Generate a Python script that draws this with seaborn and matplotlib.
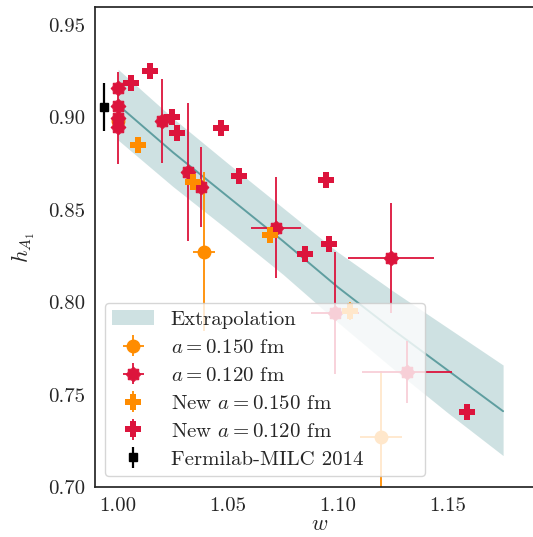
import numpy as np
import matplotlib
matplotlib.use("Agg")
import matplotlib.pyplot as plt
from matplotlib.path import Path
import seaborn as sns
import pandas as pd

# ---- data ----
band_w = [1.000, 1.025, 1.050, 1.075, 1.100, 1.125, 1.150, 1.175]
band_mid = [0.9067, 0.881, 0.857, 0.833, 0.808, 0.785, 0.763, 0.741]
band_hi = [0.926, 0.8995, 0.875, 0.851, 0.827, 0.806, 0.786, 0.766]
band_lo = [0.8877, 0.8625, 0.839, 0.815, 0.789, 0.764, 0.740, 0.717]

a150_w = [1.000, 1.0391, 1.1195]
a150_h = [0.898, 0.8272, 0.727]
a150_xerr = [0.0, 0.005, 0.0095]
a150_yerr = [0.004, 0.043, 0.036]

a120_w = [1.000, 1.000, 1.000, 1.000, 1.020, 1.0318, 1.0377, 1.0718, 1.0986, 1.1241, 1.1314]
a120_h = [0.916, 0.906, 0.8995, 0.895, 0.898, 0.8705, 0.8623, 0.8402, 0.7942, 0.8239, 0.7622]
a120_xerr = [0.0, 0.0, 0.0, 0.0, 0.0, 0.0, 0.0, 0.0114, 0.011, 0.0195, 0.0205]
a120_yerr = [0.003, 0.003, 0.025, 0.003, 0.0225, 0.0375, 0.0216, 0.0273, 0.033, 0.0298, 0.017]

new150_w = [1.0091, 1.0341, 1.0691, 1.1055]
new150_h = [0.8851, 0.8650, 0.8364, 0.7952]
new150_yerr = [0.003, 0.003, 0.003, 0.005]

new120_w = [1.0059, 1.0145, 1.0245, 1.0268, 1.0468, 1.055, 1.0945, 1.085, 1.0959, 1.1586]
new120_h = [0.9186, 0.9251, 0.9002, 0.8916, 0.8943, 0.8683, 0.8661, 0.8261, 0.8315, 0.7406]
new120_yerr = [0.003] * 10

fnal_w = [0.9936]
fnal_h = [0.9056]
fnal_yerr = [0.013]

# ---- style ----
sns.set_theme(style="white")
plt.rcParams["font.family"] = ["cmr10"]
plt.rcParams["mathtext.fontset"] = "cm"
plt.rcParams["axes.formatter.use_mathtext"] = True
plt.rcParams["axes.unicode_minus"] = False

fig = plt.figure(figsize=(5.33, 5.37), dpi=100)
AX_RIGHT = 570
axw = AX_RIGHT - 95
ax = fig.add_axes([95 / 533, 50 / 537, axw / 533, 480 / 537])

orange = "#FF8C00"
crimson = "#DC143C"
teal = "#5F9EA0"
gear = Path.unit_regular_star(8, 0.78)

ax.fill_between(band_w, band_lo, band_hi, color=teal, alpha=0.3, lw=0,
                label="Extrapolation")
df = pd.DataFrame({"w": band_w, "h": band_mid})
sns.lineplot(data=df, x="w", y="h", ax=ax, color=teal, lw=1.4, legend=False)

ax.errorbar(a150_w, a150_h, xerr=a150_xerr, yerr=a150_yerr, fmt="o", ms=9,
            color=orange, ecolor=orange, elinewidth=1.3, capsize=0,
            label=r"$a = 0.150$ fm")
ax.errorbar(a120_w, a120_h, xerr=a120_xerr, yerr=a120_yerr, linestyle="none",
            marker=gear, ms=10.5, mew=0.8, color=crimson, ecolor=crimson,
            elinewidth=1.3, capsize=0, label=r"$a = 0.120$ fm")
ax.errorbar(new150_w, new150_h, yerr=new150_yerr, fmt="P", ms=12,
            color=orange, ecolor=orange, elinewidth=1.3, capsize=0, mew=0,
            label=r"New $a = 0.150$ fm")
ax.errorbar(new120_w, new120_h, yerr=new120_yerr, fmt="P", ms=12,
            color=crimson, ecolor=crimson, elinewidth=1.3, capsize=0, mew=0,
            label=r"New $a = 0.120$ fm")
ax.errorbar(fnal_w, fnal_h, yerr=fnal_yerr, fmt="s", ms=6,
            color="black", ecolor="black", elinewidth=1.6, capsize=0,
            label="Fermilab-MILC 2014")

ax.set_xlim(0.9895, 0.9895 + axw / 2200)
ax.set_ylim(0.70, 0.9597)
ax.set_xticks([1.00, 1.05, 1.10, 1.15])
ax.set_xticklabels(["1.00", "1.05", "1.10", "1.15"])
ax.set_yticks([0.70, 0.75, 0.80, 0.85, 0.90, 0.95])
ax.set_yticklabels(["0.70", "0.75", "0.80", "0.85", "0.90", "0.95"])
ax.tick_params(labelsize=15, length=0, pad=7)
ax.set_xlabel(r"$w$", fontsize=16)
ax.xaxis.set_label_coords((320 - 95) / axw, -(514 - 487) / 480)
ax.xaxis.label.set_verticalalignment("top")
ax.set_ylabel(r"$h_{A_1}$", fontsize=16, labelpad=8)
for s in ax.spines.values():
    s.set_color("0.15")
    s.set_linewidth(1.25)

x0 = (105 - 95) / axw
wid = (425 - 105) / axw
y0 = (487 - 476) / 480
hgt = (476 - 303) / 480
leg = ax.legend(loc="lower left", bbox_to_anchor=(x0, y0, wid, hgt), mode="expand",
                borderaxespad=0, fontsize=15, framealpha=0.8, edgecolor="0.8",
                handlelength=2.0, borderpad=0.35, labelspacing=0.45)

fig.savefig("out.png", dpi=100)
